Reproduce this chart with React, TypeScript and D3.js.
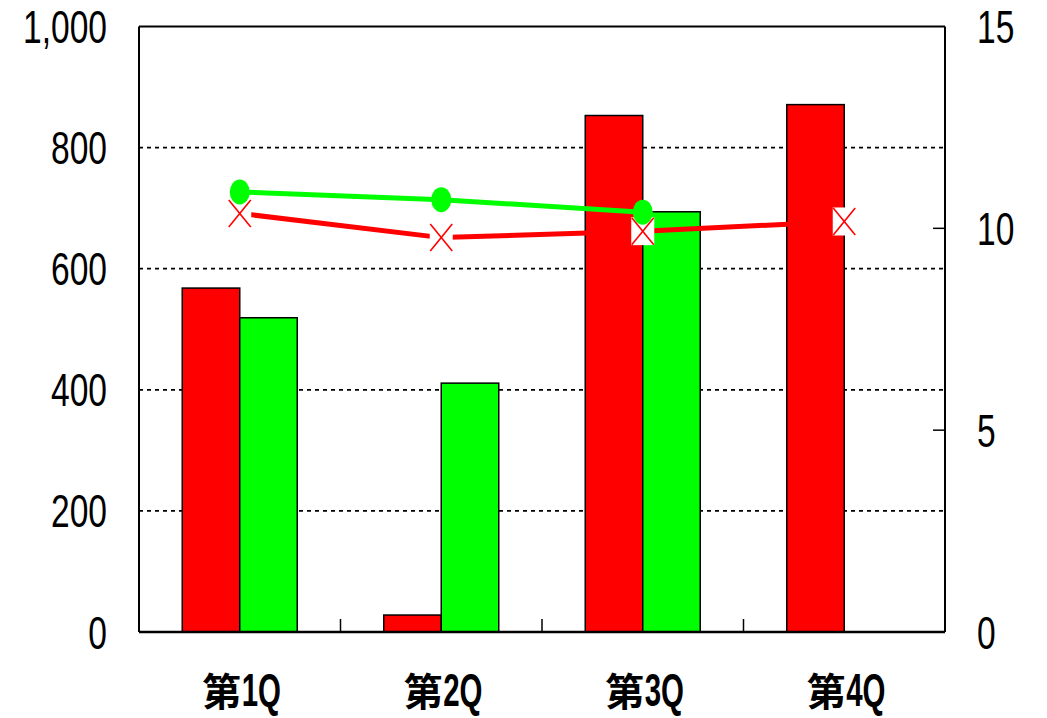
import React from "react";
import * as d3 from "d3";

const categories = ["第1Q", "第2Q", "第3Q", "第4Q"];
const redBars = [568, 28, 853, 871];
const greenBars = [519, 411, 694, null as number | null];
const redLine = [10.37, 9.77, 9.93, 10.17];
const greenLine = [10.9, 10.71, 10.4, null as number | null];
const leftTicks = [0, 200, 400, 600, 800, 1000];
const rightTicks = [0, 5, 10, 15];

const W = 1047, H = 718;
const L = 139, R = 945, T = 26.5, B = 632;
const NUM_FONT = "'Liberation Sans', Arial, sans-serif";
const SX = 0.73;

export default function App() {
  const x = d3.scaleBand<string>().domain(categories).range([L, R]).paddingInner(0).paddingOuter(0);
  const yL = d3.scaleLinear().domain([0, 1000]).range([B, T]);
  const yR = d3.scaleLinear().domain([0, 15]).range([B, T]);
  const bw = 57.5;
  const cx = (c: string) => (x(c) as number) + x.bandwidth() / 2;

  const lineGen = d3.line<[number, number]>().x(d => d[0]).y(d => d[1]);
  const redPts: [number, number][] = categories.map((c, i) => [cx(c), yR(redLine[i])]);
  const greenPts: [number, number][] = categories
    .map((c, i) => (greenLine[i] == null ? null : [cx(c), yR(greenLine[i] as number)]))
    .filter(Boolean) as [number, number][];

  return (
    <svg width={W} height={H} style={{ position: "absolute", left: 0, top: 0, background: "#fff" }}>
      <rect x={0} y={0} width={W} height={H} fill="#fff" />
      {/* gridlines */}
      {leftTicks.filter(t => t > 0 && t < 1000).map(t => (
        <line key={t} x1={L} x2={R} y1={yL(t)} y2={yL(t)} stroke="#000" strokeWidth={1.8} strokeDasharray="4,4" />
      ))}
      {/* bars */}
      {categories.map((c, i) => (
        <g key={c}>
          <rect x={cx(c) - bw} y={yL(redBars[i])} width={bw} height={B - yL(redBars[i])} fill="#ff0000" stroke="#000" strokeWidth={1.5} />
          {greenBars[i] != null && (
            <rect x={cx(c)} y={yL(greenBars[i] as number)} width={bw} height={B - yL(greenBars[i] as number)} fill="#00ff00" stroke="#000" strokeWidth={1.5} />
          )}
        </g>
      ))}
      {/* frame */}
      <line x1={L} x2={R} y1={T} y2={T} stroke="#000" strokeWidth={2} />
      <line x1={L} x2={L} y1={T} y2={B} stroke="#000" strokeWidth={2} />
      <line x1={R} x2={R} y1={T} y2={B} stroke="#000" strokeWidth={2} />
      <line x1={L} x2={R} y1={B} y2={B} stroke="#000" strokeWidth={2.5} />
      {/* category separators */}
      {categories.slice(1).map(c => (
        <line key={c} x1={x(c) as number} x2={x(c) as number} y1={B} y2={B - 13} stroke="#000" strokeWidth={1.5} />
      ))}
      {/* right ticks */}
      {rightTicks.filter(t => t > 0 && t < 15).map(t => (
        <line key={t} x1={R - 12} x2={R} y1={yR(t)} y2={yR(t)} stroke="#000" strokeWidth={1.5} />
      ))}
      {/* red line */}
      <path d={lineGen(redPts) || ""} fill="none" stroke="#ff0000" strokeWidth={5} />
      {redPts.map((p, i) => (
        <g key={i}>
          <rect x={p[0] - 11.5} y={p[1] - 14} width={23} height={28} fill="#fff" />
          <line x1={p[0] - 11} x2={p[0] + 11} y1={p[1] - 13.5} y2={p[1] + 13.5} stroke="#ff0000" strokeWidth={1.6} />
          <line x1={p[0] + 11} x2={p[0] - 11} y1={p[1] - 13.5} y2={p[1] + 13.5} stroke="#ff0000" strokeWidth={1.6} />
        </g>
      ))}
      {/* green line */}
      <path d={lineGen(greenPts) || ""} fill="none" stroke="#00ff00" strokeWidth={5} />
      {greenPts.map((p, i) => (
        <ellipse key={i} cx={p[0]} cy={p[1]} rx={10} ry={12.5} fill="#00ff00" />
      ))}
      {/* left labels */}
      {leftTicks.map(t => (
        <text key={t} transform={`translate(107,${yL(t)}) scale(${SX},1)`} dy="0.36em" textAnchor="end" fontFamily={NUM_FONT} fontSize={46} fill="#000">
          {d3.format(",")(t)}
        </text>
      ))}
      {/* right labels */}
      {rightTicks.map(t => (
        <text key={t} transform={`translate(977,${yR(t)}) scale(${SX},1)`} dy="0.36em" textAnchor="start" fontFamily={NUM_FONT} fontSize={46} fill="#000">
          {t}
        </text>
      ))}
      {/* category labels */}
      {categories.map(c => (
        <g key={c}>
          <text x={cx(c) + 1.5} y={706} textAnchor="end" fontFamily="'Noto Sans CJK JP', sans-serif" fontWeight="bold" fontSize={39} fill="#000">
            {c.slice(0, 1)}
          </text>
          <text transform={`translate(${cx(c) + 2},706) scale(0.64,1)`} textAnchor="start" fontFamily={NUM_FONT} fontWeight="bold" fontSize={46} fill="#000">
            {c.slice(1)}
          </text>
        </g>
      ))}
    </svg>
  );
}
